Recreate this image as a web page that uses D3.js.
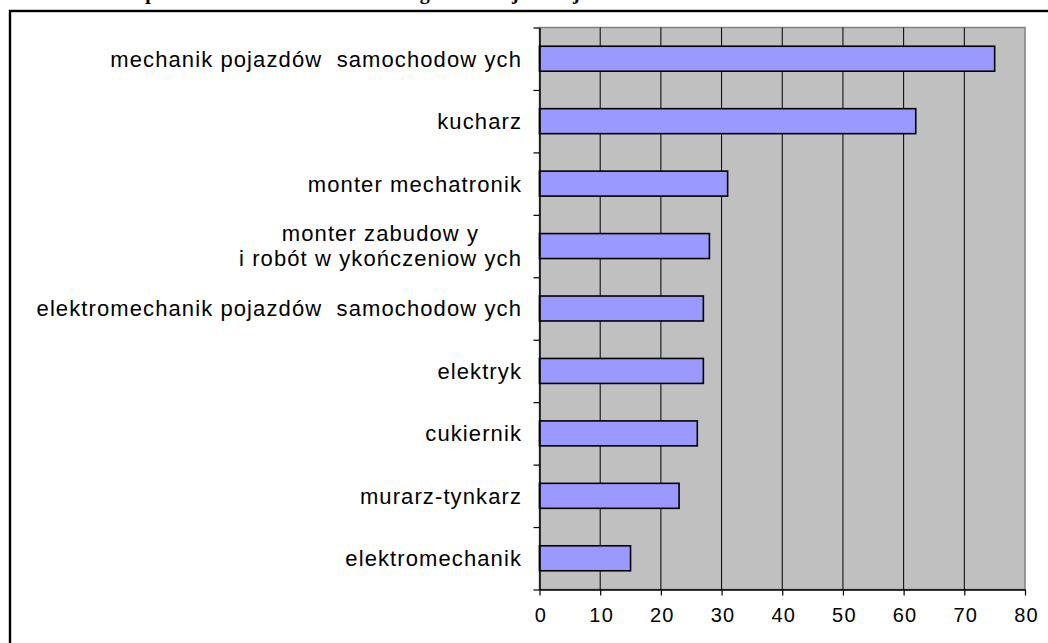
<!DOCTYPE html>
<html>
<head>
<meta charset="utf-8">
<script src="https://cdn.jsdelivr.net/npm/d3@7"></script>
<style>
  html, body { margin: 0; padding: 0; background: #fff; }
  svg { display: block; }
  .cat { font-family: "Liberation Sans", Arial, sans-serif; font-size: 22px; letter-spacing: 1.1px; fill: #000; white-space: pre; }
  .xaxis text { font-family: "Liberation Sans", Arial, sans-serif; font-size: 20px; letter-spacing: 1.2px; fill: #000; }
  .heading { font-family: "Liberation Serif", "Times New Roman", serif; font-size: 20px; font-weight: bold; }
</style>
</head>
<body>
<svg id="chart" width="1048" height="643"></svg>
<script>
const categories = [
  ["mechanik pojazdów  samochodow ych"],
  ["kucharz"],
  ["monter mechatronik"],
  ["monter zabudow y", "i robót w ykończeniow ych"],
  ["elektromechanik pojazdów  samochodow ych"],
  ["elektryk"],
  ["cukiernik"],
  ["murarz-tynkarz"],
  ["elektromechanik"]
];
const values = [75, 62, 31, 28, 27, 27, 26, 23, 15];
const xTicks = [0, 10, 20, 30, 40, 50, 60, 70, 80];

const data = categories.map((c, i) => ({ id: i, lines: c, value: values[i] }));

const svg = d3.select("#chart");
const plot = { left: 539.5, right: 1025, top: 27.5, bottom: 589.5 };

// heading, mostly above the page edge as in the scan
svg.append("text").attr("class", "heading")
    .attr("x", 33).attr("y", -1)
    .text("Uczniowie w podziale na kierunki zawodów ogółem – najliczniejsze");

// outer frame, runs past the right and bottom edges
svg.append("rect")
    .attr("x", 10).attr("y", 11)
    .attr("width", 1100).attr("height", 700)
    .attr("fill", "none").attr("stroke", "#000").attr("stroke-width", 2.4);

const x = d3.scaleLinear().domain([0, 80]).range([plot.left, plot.right]);
const y = d3.scaleBand().domain(data.map(d => d.id))
    .range([plot.top, plot.bottom]).paddingInner(0.6).paddingOuter(0.3);
const yEdge = d3.scaleLinear().domain([0, categories.length]).range([plot.top, plot.bottom]);

// plot area
svg.append("rect")
    .attr("x", plot.left).attr("y", plot.top)
    .attr("width", plot.right - plot.left).attr("height", plot.bottom - plot.top)
    .attr("fill", "#c0c0c0").attr("stroke", "#808080").attr("stroke-width", 1.5);

// gridlines
svg.append("g").selectAll("line")
    .data(xTicks.slice(1, -1)).enter().append("line")
    .attr("x1", d => x(d)).attr("x2", d => x(d))
    .attr("y1", plot.top).attr("y2", plot.bottom)
    .attr("stroke", "#000").attr("stroke-width", 1);

// bars
svg.append("g").selectAll("rect")
    .data(data).enter().append("rect")
    .attr("x", x(0))
    .attr("y", d => y(d.id))
    .attr("width", d => x(d.value) - x(0))
    .attr("height", y.bandwidth())
    .attr("fill", "#9999ff")
    .attr("stroke", "#000").attr("stroke-width", 1.6);

// left axis with ticks on category boundaries
const yAxis = svg.append("g")
    .attr("transform", `translate(${plot.left},0)`)
    .call(d3.axisLeft(yEdge).tickValues(d3.range(0, categories.length + 1)).tickFormat("").tickSize(6).tickSizeOuter(0));
yAxis.select(".domain").attr("stroke", "#000").attr("stroke-width", 1.5);
yAxis.selectAll(".tick line").attr("stroke", "#000").attr("stroke-width", 1.2);

// bottom axis
const xAxis = svg.append("g").attr("class", "xaxis")
    .attr("transform", `translate(0,${plot.bottom})`)
    .call(d3.axisBottom(x).tickValues(xTicks).tickSize(6).tickSizeOuter(0).tickPadding(12));
xAxis.select(".domain").attr("stroke", "#000").attr("stroke-width", 1.5);
xAxis.selectAll(".tick line").attr("stroke", "#000").attr("stroke-width", 1.2);
xAxis.selectAll("text").attr("font-family", null).attr("font-size", null).attr("dx", "0.05em");

// category labels, multi-line ones centred on their widest line
const labelRight = 522;
const lineH = 25;
const label = svg.append("g").selectAll("text")
    .data(data).enter().append("text").attr("class", "cat")
    .attr("text-anchor", "middle");
label.each(function(d) {
    const t = d3.select(this);
    const cy = y(d.id) + y.bandwidth() / 2;
    d.lines.forEach((line, i) => {
        t.append("tspan")
            .attr("y", cy + (i - (d.lines.length - 1) / 2) * lineH)
            .attr("dy", "0.36em")
            .text(line);
    });
    let maxW = 0;
    t.selectAll("tspan").each(function() { maxW = Math.max(maxW, this.getComputedTextLength()); });
    t.selectAll("tspan").attr("x", labelRight - maxW / 2);
});
</script>
</body>
</html>
